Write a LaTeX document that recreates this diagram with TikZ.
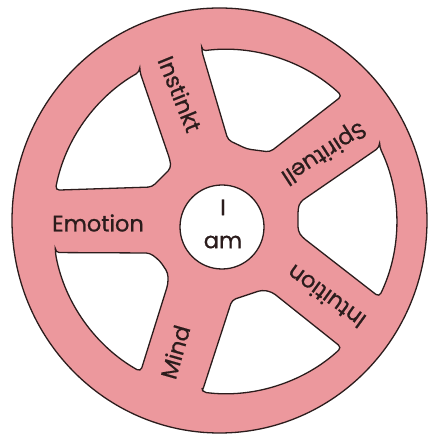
\documentclass[tikz,border=0pt]{standalone}
\usepackage{fontspec}
\setmainfont{Poppins}[UprightFeatures={FakeBold=0.7}]
\usetikzlibrary{calc}
\definecolor{wpink}{HTML}{EC989D}
\definecolor{wline}{HTML}{2B1C1C}
\begin{document}
\begin{tikzpicture}[x=1pt,y=1pt,
  outline/.style={draw=wline, line width=1.3pt},
  window/.style={outline, fill=white, rounded corners=4pt},
  lbl/.style={font=\fontsize{22.5}{33}\selectfont, text=wline, inner sep=0pt}]
\useasboundingbox (0,0) rectangle (430,435);
\coordinate (Ci) at (224.5,213.5);
% wheel
\draw[outline, fill=wpink] (219.5,214.5) ellipse [x radius=207.5, y radius=212.5];
% windows
\draw[window] ($(Ci)+(119.5:172)$) -- (170,275) -- (171,267) -- (152,248)
  -- ($(Ci)+(169.5:172)$) arc[start angle=169.5, end angle=119.5, radius=172pt] -- cycle;
\draw[window] ($(Ci)+(97.6:172)$) -- (228,295) -- (247,286) -- (270,283)
  -- ($(Ci)+(46.9:172)$) arc[start angle=46.9, end angle=97.6, radius=172pt] -- cycle;
\draw[window] ($(Ci)+(25.6:172)$) -- (300,233) -- (298,226) -- (298,204) -- (302,198)
  -- ($(Ci)+(-26:172)$) arc[start angle=-26, end angle=25.6, radius=172pt] -- cycle;
\draw[window] ($(Ci)+(-97.5:172)$) -- (232,135) -- (247,140) -- (262,145) -- (272,143)
  -- ($(Ci)+(-47.1:172)$) arc[start angle=-47.1, end angle=-97.5, radius=172pt] -- cycle;
\draw[window] ($(Ci)+(190.4:172)$) -- (150,182) -- (160,174) -- (168,162) -- (168,151)
  -- ($(Ci)+(240.8:172)$) arc[start angle=240.8, end angle=190.4, radius=172pt] -- cycle;
% hub
\node[outline, fill=white, circle, minimum size=84pt, inner sep=0pt] (hub) at (222,208) {};
\node[lbl, align=center] (iam) at (223,211) {I\\am};
% spoke labels
\node[lbl] (emotion) at (98,212) {Emotion};
\node[lbl, rotate=-68] (instinkt) at (180,341) {Instinkt};
\node[lbl, rotate=213] (spirituell) at (323,283) {Spirituell};
\node[lbl, rotate=144] (intuition) at (326,138) {Intuition};
\node[lbl, rotate=74] (mind) at (175,83) {Mind};
\end{tikzpicture}
\end{document}
